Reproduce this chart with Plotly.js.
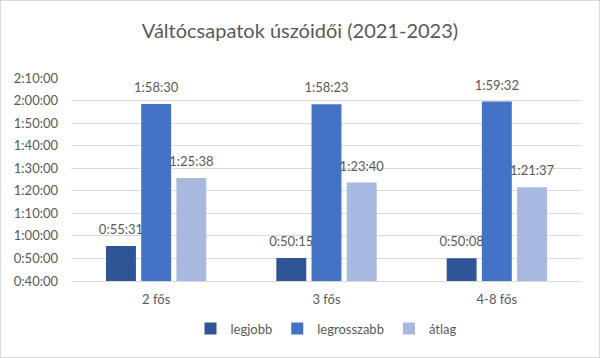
<!DOCTYPE html>
<html><head><meta charset="utf-8">
<script src="https://cdn.plot.ly/plotly-3.0.1.min.js"></script>
<style>html,body{margin:0;padding:0;background:#fff}#c{width:600px;height:358px;box-sizing:border-box;border:1px solid #d9d9d9}</style>
</head><body><div id="c"></div>
<script>
const categories = ["2 fős", "3 fős", "4-8 fős"];
const seriesNames = ["legjobb", "legrosszabb", "átlag"];
const legjobb = ["0:55:31", "0:50:15", "0:50:08"];
const legrosszabb = ["1:58:30", "1:58:23", "1:59:32"];
const atlag = ["1:25:38", "1:23:40", "1:21:37"];
const tickLabels = ["0:40:00","0:50:00","1:00:00","1:10:00","1:20:00","1:30:00","1:40:00","1:50:00","2:00:00","2:10:00"];
const colors = ["#2F5597", "#4472C4", "#A9B8DE"];

function toSec(s){const p=s.split(":").map(Number);return p[0]*3600+p[1]*60+p[2];}
const tickVals = tickLabels.map(toSec);
const fontFam = "Lato, 'Open Sans', sans-serif";
const series = [legjobb, legrosszabb, atlag];
const bars = series.map((arr,i)=>({
  type:"bar", name:seriesNames[i], x:categories, y:arr.map(toSec),
  offsetgroup:"g"+i, marker:{color:colors[i]}, hoverinfo:"skip"
}));
const labels = series.map((arr,i)=>({
  type:"scatter", mode:"markers+text", name:seriesNames[i]+" címke", showlegend:false,
  x:categories, y:arr.map(toSec), text:arr, textposition:"top center", offsetgroup:"g"+i,
  cliponaxis:false, textfont:{size:13,color:"#595959",family:fontFam},
  marker:{size:12, color:"rgba(0,0,0,0)"}, hoverinfo:"skip"
}));
const layout = {
  width:598, height:356,
  margin:{l:70,r:17,t:77,b:76},
  paper_bgcolor:"#fff", plot_bgcolor:"#fff",
  title:{text:"Váltócsapatok úszóidői (2021-2023)", x:0.5, xanchor:"center", y:0.915, yanchor:"middle",
    font:{size:20,color:"#595959",family:fontFam}},
  barmode:"group", bargap:0.38, bargroupgap:0.15,
  scattermode:"group", scattergap:0.38,
  xaxis:{showgrid:false, showline:true, linecolor:"#d9d9d9", ticks:"", ticklabelstandoff:6, tickfont:{size:13,color:"#595959",family:fontFam}},
  yaxis:{range:[tickVals[0], tickVals[tickVals.length-1]], tickvals:tickVals, ticktext:tickLabels,
    showgrid:true, gridcolor:"#d9d9d9", zeroline:false, ticks:"", ticklen:0, ticklabelstandoff:12,
    tickfont:{size:13,color:"#595959",family:fontFam}},
  legend:{orientation:"h", x:0.5, xanchor:"center", y:-0.16, yanchor:"top",
    font:{size:13,color:"#595959",family:fontFam}, itemwidth:30, traceorder:"normal"},
  showlegend:true
};
Plotly.newPlot("c", bars.concat(labels), layout, {displayModeBar:false, staticPlot:true});
</script></body></html>
